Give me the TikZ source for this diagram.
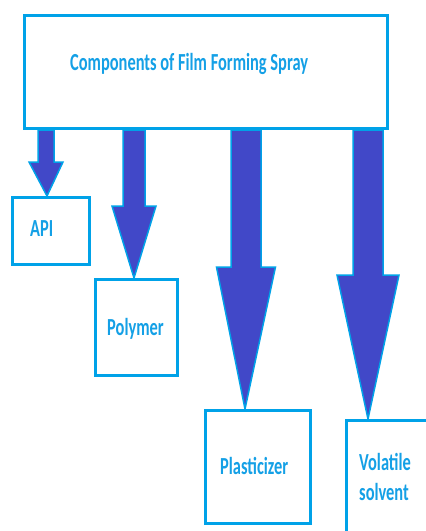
\documentclass[tikz,border=0pt]{standalone}
\usepackage{fontspec}
\usepackage{graphicx}
\setmainfont{Carlito}
\usetikzlibrary{backgrounds}
\definecolor{lblue}{RGB}{0,162,232}
\definecolor{tblue}{RGB}{20,160,230}
\definecolor{ablue}{RGB}{65,72,200}
\tikzset{
  box/.style={draw=lblue, line width=3pt, fill=white, inner sep=0pt},
  lbl/.style={text=tblue, font=\bfseries\fontsize{24.5}{26}\selectfont, inner sep=0pt, anchor=base west},
  arr/.style={fill=ablue, draw=lblue, line width=1.5pt, line join=miter},
}
\newcommand\sq[1]{\scalebox{0.67}[1]{#1}}
% #1 x, #2 half shaft, #3 half head, #4 head base y, #5 target, #6 tip x
\newcommand\barrow[6]{%
  \draw[arr] ({#1-#2},0 |- top.south) -- ({#1-#2},#4) -- ({#1-#3},#4)
    -- (#6,0 |- #5.north) -- ({#1+#3},#4) -- ({#1+#2},#4)
    -- ({#1+#2},0 |- top.south) -- cycle;}
\begin{document}
\begin{tikzpicture}[x=1pt,y=-1pt]
\useasboundingbox (0,0) rectangle (426,531);
\node[box, minimum width=363pt, minimum height=113pt] (top) at (206,72) {};
\node[box, minimum width=77pt, minimum height=67pt] (api) at (51,231) {};
\node[box, minimum width=82pt, minimum height=96pt] (poly) at (136.5,327.5) {};
\node[box, minimum width=105pt, minimum height=113pt] (plas) at (258,467) {};
\node[box, minimum width=92pt, minimum height=123pt] (vol) at (392.5,482) {};
\node[lbl] (ttop) at (70,70.7) {\sq{Components of Film Forming Spray}};
\node[lbl] (tapi) at (30,236.7) {\sq{API}};
\node[lbl] (tpoly) at (107,335) {\sq{Polymer}};
\node[lbl] (tplas) at (220,474) {\sq{Plasticizer}};
\node[lbl] (tvol1) at (359,470) {\sq{Volatile}};
\node[lbl] (tvol2) at (359,500) {\sq{solvent}};
\begin{pgfonlayer}{background}
\barrow{46}{8}{17}{162}{api}{47}
\barrow{134}{11}{22}{206}{poly}{134}
\barrow{246}{15}{29.5}{267}{plas}{245}
\barrow{368}{15}{31}{275}{vol}{368}
\end{pgfonlayer}
\end{tikzpicture}
\end{document}
